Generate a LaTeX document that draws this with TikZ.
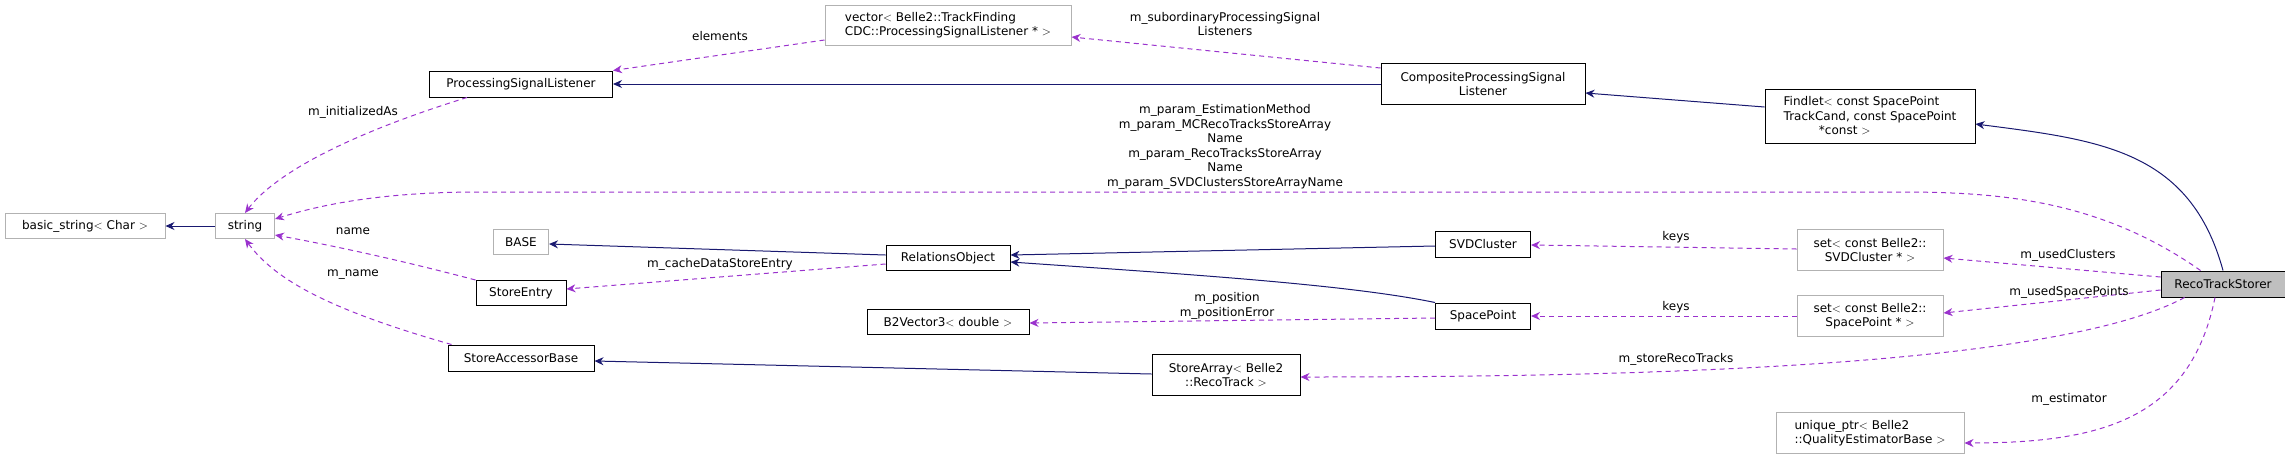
\documentclass[tikz,border=0pt]{standalone}
\usepackage{fontspec}
\setmainfont{DejaVu Sans}
\usetikzlibrary{arrows.meta,positioning}
\definecolor{navyline}{HTML}{191970}
\definecolor{useline}{HTML}{9A32CD}
\tikzset{
	cls/.style={draw=black, line width=1pt, fill=white, inner sep=2pt, align=center, font=\fontsize{12}{14.5}\selectfont},
	ext/.style={cls, draw=black!30},
	inh/.style={navyline, line width=1pt, -{Stealth[length=9pt,width=8pt]}},
	use/.style={useline, line width=1pt, dash pattern=on 5pt off 4pt, -{Stealth[length=9pt,width=8pt]}},
	lbl/.style={align=center, font=\fontsize{12}{14.5}\selectfont}
}
\begin{document}
\begin{tikzpicture}
[x=1pt, y=-1pt]
\useasboundingbox (0,0) rectangle (2285,459);
% classes
\node[ext, minimum width=160, minimum height=25] (bstr) at (85,226) {basic\_string$<$ Char $>$};
\node[ext, minimum width=59, minimum height=25] (str) at (245,226) {string};
\node[cls, minimum width=183, minimum height=26] (psl) at (521,84) {ProcessingSignalListener};
\node[ext, minimum width=246, minimum height=40, align=left] (vec) at (948,25) {vector$<$ Belle2::TrackFinding\\CDC::ProcessingSignalListener * $>$};
\node[ext, minimum width=55, minimum height=25] (base) at (521,242) {BASE};
\node[cls, minimum width=90, minimum height=25] (sent) at (521,293) {StoreEntry};
\node[cls, minimum width=146, minimum height=26] (sab) at (521,358) {StoreAccessorBase};
\node[cls, minimum width=124, minimum height=25] (rel) at (948,258) {RelationsObject};
\node[cls, minimum width=162, minimum height=25] (b2v) at (948,322) {B2Vector3$<$ double $>$};
\node[cls, minimum width=204, minimum height=41] (cpsl) at (1483,84) {CompositeProcessingSignal\\Listener};
\node[cls, minimum width=210, minimum height=54, align=left] (fin) at (1870,116) {Findlet$<$ const SpacePoint\\TrackCand, const SpacePoint\\\hphantom{Findle}*const $>$};
\node[cls, minimum width=95, minimum height=26] (svd) at (1483,244) {SVDCluster};
\node[cls, minimum width=95, minimum height=26] (sp) at (1483,316) {SpacePoint};
\node[cls, minimum width=148, minimum height=41] (sarr) at (1226,375) {StoreArray$<$ Belle2\\::RecoTrack $>$};
\node[ext, minimum width=146, minimum height=41] (ssvd) at (1870,250) {set$<$ const Belle2::\\SVDCluster * $>$};
\node[ext, minimum width=146, minimum height=41] (ssp) at (1870,316) {set$<$ const Belle2::\\SpacePoint * $>$};
\node[ext, minimum width=188, minimum height=41, align=left] (uptr) at (1870,433) {unique\_ptr$<$ Belle2\\::QualityEstimatorBase $>$};
\node[cls, fill=black!25, minimum width=124, minimum height=26] (rts) at (2223,284) {RecoTrackStorer};
% inheritance
\draw[inh] (str) -- (bstr);
\draw[inh] (cpsl) -- (psl);
\draw[inh] (fin.west |- 0,107) -- (cpsl.east |- 0,93);
\draw[inh] (rts.north) .. controls (2190,150) and (2100,140) .. (fin.east |- 0,124);
\draw[inh] (rel.west |- 0,255) -- (base.east |- 0,244);
\draw[inh] (svd.west |- 0,246) -- (rel.east |- 0,255);
\draw[inh] (sp.north west) .. controls (1350,285) and (1200,275) .. (rel.east |- 0,262);
\draw[inh] (sarr.west |- 0,374) -- (sab.east |- 0,361);
% usage
\draw[use] (psl.south west) ++(38,0) coordinate (pslb) .. controls (330,140) and (270,180) .. (str.north);
\draw[use] (sent.north west) .. controls (400,260) and (330,245) .. (str.east |- 0,235);
\draw[use] (sab.north west) ++(4,0) coordinate (sabt) .. controls (330,310) and (275,280) .. (str.south);
\draw[use] (rts.north west) ++(40,0) coordinate (rtst) .. controls (2100,200) and (2000,192) .. (1900,192) -- (480,192) .. controls (380,192) and (320,205) .. (str.east |- 0,219);
\draw[use] (vec.west |- 0,40) -- (psl.north east);
\draw[use] (cpsl.north west) ++(0,5) coordinate (cpslt) -- (vec.east |- 0,37);
\draw[use] (rel.west |- 0,264) -- (sent.east |- 0,289);
\draw[use] (sp.west |- 0,318) -- (b2v.east |- 0,323);
\draw[use] (ssvd.west |- 0,249) -- (svd.east |- 0,245);
\draw[use] (ssp.west) -- (sp.east);
\draw[use] (rts.west |- 0,277) -- (ssvd.east |- 0,258);
\draw[use] (rts.west |- 0,290) -- (ssp.east |- 0,313);
\draw[use] (rts.south west) ++(24,0) coordinate (rtsb) .. controls (2050,370) and (1600,377) .. (sarr.east |- 0,377);
\draw[use] (rts.south) ++(-8,0) coordinate (rtsc) .. controls (2190,420) and (2100,443) .. (uptr.east |- 0,443);
% labels
\node[lbl] (lelem) at (720,36) {elements};
\node[lbl] (lsub) at (1225,24) {m\_subordinaryProcessingSignal\\Listeners};
\node[lbl] (linit) at (353,112) {m\_initializedAs};
\node[lbl] (lparam) at (1225,147) {m\_param\_EstimationMethod\\m\_param\_MCRecoTracksStoreArray\\Name\\m\_param\_RecoTracksStoreArray\\Name\\m\_param\_SVDClustersStoreArrayName};
\node[lbl] (lname) at (353,231) {name};
\node[lbl] (lmname) at (353,275) {m\_name};
\node[lbl] (lcache) at (720,264) {m\_cacheDataStoreEntry};
\node[lbl] (lpos) at (1227,306) {m\_position\\m\_positionError};
\node[lbl] (lkeys1) at (1676,237) {keys};
\node[lbl] (lkeys2) at (1676,307) {keys};
\node[lbl] (lclus) at (2068,255) {m\_usedClusters};
\node[lbl] (lusp) at (2069,292) {m\_usedSpacePoints};
\node[lbl] (lsrt) at (1676,359) {m\_storeRecoTracks};
\node[lbl] (lest) at (2069,399) {m\_estimator};
\end{tikzpicture}
\end{document}
